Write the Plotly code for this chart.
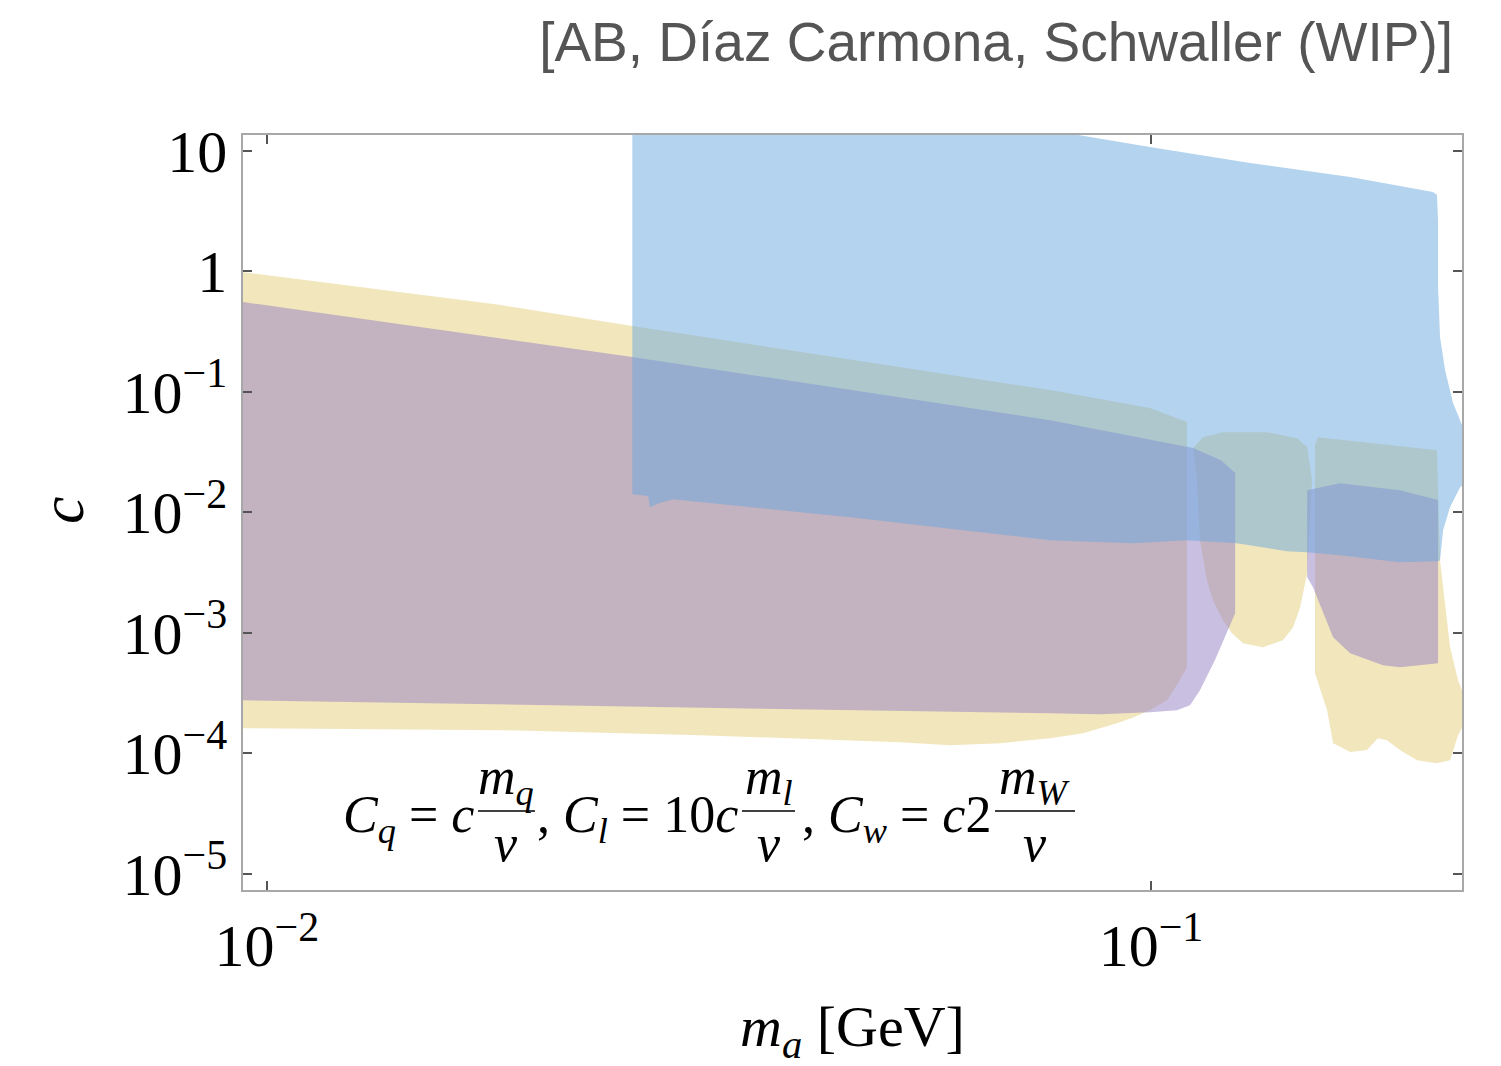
import plotly.graph_objects as go

# ---------------- data (m_a in GeV, c dimensionless) ----------------
# yellow region, lobe 1
yel1_m = [0.0093, 0.0184, 0.0259, 0.0769, 0.0997, 0.1098, 0.1098, 0.1078, 0.1043,
          0.0997, 0.0954, 0.0915, 0.0838, 0.0769, 0.0675, 0.0593, 0.0520, 0.0309,
          0.0184, 0.0093]
yel1_c = [0.99, 0.523, 0.35, 0.103, 0.073, 0.0559, 0.000516, 0.000403, 0.000275,
          0.000227, 0.000198, 0.000177, 0.000146, 0.000133, 0.000121, 0.000116,
          0.000123, 0.000141, 0.000155, 0.000161]
# yellow region, lobe 2
yel2_m = [0.1145, 0.1206, 0.1353, 0.1463, 0.1502, 0.1521, 0.1502, 0.1475, 0.1448,
          0.1410, 0.1339, 0.1271, 0.1235, 0.1206, 0.1175, 0.1157, 0.1136, 0.1127,
          0.1116]
yel2_c = [0.0419, 0.0461, 0.0461, 0.0411, 0.0346, 0.0184, 0.00311, 0.00163, 0.00111,
          0.000865, 0.000757, 0.000817, 0.000989, 0.00127, 0.00186, 0.00272,
          0.00585, 0.0184, 0.0340]
# yellow region, lobe 3
yel3_m = [0.1545, 0.2106, 0.2123, 0.2140, 0.2179, 0.2225, 0.2270, 0.2270, 0.2225,
          0.2179, 0.2106, 0.2000, 0.1912, 0.1849, 0.1806, 0.1755, 0.1680, 0.1607,
          0.1582, 0.1533, 0.1533]
yel3_c = [0.0419, 0.0327, 0.00399, 0.00240, 0.000760, 0.000403, 0.000275, 0.000185,
          0.000141, 0.0000872, 0.0000824, 0.0000872, 0.000106, 0.000128, 0.000133,
          0.000106, 0.000102, 0.000121, 0.000227, 0.000460, 0.0360]

# purple region, left part
pur1_m = [0.0093, 0.0184, 0.0259, 0.0769, 0.1116, 0.1200, 0.1245, 0.1245, 0.1222,
          0.1181, 0.1136, 0.1107, 0.1070, 0.0997, 0.0876, 0.0769, 0.0093]
pur1_c = [0.56, 0.278, 0.194, 0.058, 0.034, 0.027, 0.0211, 0.00145, 0.00105,
          0.00059, 0.000333, 0.00025, 0.000227, 0.000218, 0.00021, 0.000214, 0.000275]
# purple region, right part
pur2_m = [0.1502, 0.1636, 0.1912, 0.2112, 0.2112, 0.1912, 0.1830, 0.1680, 0.1607,
          0.1525, 0.1502]
pur2_c = [0.0152, 0.0174, 0.0152, 0.0126, 0.000557, 0.000516, 0.000536, 0.000675,
          0.000916, 0.00238, 0.00288]

# blue region
blue_m = [0.0259, 0.0853, 0.0997, 0.1294, 0.1680, 0.2084, 0.2106, 0.2112, 0.2112,
          0.2123, 0.2151, 0.2196, 0.2248, 0.2320, 0.2320, 0.2237, 0.2179, 0.2140,
          0.2123, 0.2112, 0.1912, 0.1636, 0.1502, 0.1425, 0.1363, 0.1251, 0.1098,
          0.0954, 0.0769, 0.0457, 0.0401, 0.0352, 0.0309, 0.0288, 0.0278, 0.0271,
          0.0270, 0.0259]
blue_c = [57.0, 13.0, 10.7, 7.91, 6.05, 4.54, 4.29, 2.66, 0.738,
          0.284, 0.151, 0.0804, 0.0528, 0.045, 0.020, 0.0161, 0.0110, 0.00709,
          0.00399, 0.00392, 0.00384, 0.00439, 0.00465, 0.00474, 0.00502, 0.00553,
          0.00585, 0.00553, 0.00585, 0.00909, 0.0100, 0.0110, 0.0121, 0.0128,
          0.0119, 0.0110, 0.0136, 0.0141]

x_tickvals = [0.01, 0.1]
x_ticktext = ["10<sup>\u22122</sup>", "10<sup>\u22121</sup>"]
y_tickvals = [1e-5, 1e-4, 1e-3, 1e-2, 1e-1, 1, 10]
y_ticktext = ["10<sup>\u22125</sup>", "10<sup>\u22124</sup>", "10<sup>\u22123</sup>",
              "10<sup>\u22122</sup>", "10<sup>\u22121</sup>", "1", "10"]

YELLOW = "rgba(229,205,123,0.5)"
PURPLE = "rgba(148,128,196,0.5)"
BLUE = "rgba(105,167,221,0.5)"

SERIF = "Liberation Serif, DejaVu Serif, serif"

fig = go.Figure()
for xs, ys, col in [(yel1_m, yel1_c, YELLOW), (yel2_m, yel2_c, YELLOW),
                    (yel3_m, yel3_c, YELLOW), (pur1_m, pur1_c, PURPLE),
                    (pur2_m, pur2_c, PURPLE), (blue_m, blue_c, BLUE)]:
    fig.add_trace(go.Scatter(x=xs, y=ys, mode="lines", fill="toself",
                             fillcolor=col, line=dict(width=0, color=col),
                             hoverinfo="skip", showlegend=False))

W, H = 1501, 1066
L, R, T, B = 243, 39, 135, 176


def px2paper(px, py):
    return (px - L) / (W - L - R), (H - B - py) / (H - T - B)


axis_common = dict(
    type="log", showgrid=False, zeroline=False,
    showline=True, linecolor="#a8a8a8", linewidth=1.5, mirror="allticks",
    ticks="inside", ticklen=9, tickwidth=1.5, tickcolor="#555555",
    tickfont=dict(family=SERIF, size=60, color="black"),
)

fig.update_layout(
    width=W, height=H,
    margin=dict(l=L, r=R, t=T, b=B),
    paper_bgcolor="white", plot_bgcolor="white",
    xaxis=dict(range=[-2.0271, -0.6482], tickvals=x_tickvals, ticktext=x_ticktext,
               ticklabelstandoff=2, **axis_common),
    yaxis=dict(range=[-5.136, 1.130], tickvals=y_tickvals, ticktext=y_ticktext,
               ticklabelstandoff=2, **axis_common),
    title=dict(text="[AB, Díaz Carmona, Schwaller (WIP)]",
               font=dict(family="Liberation Sans, Arial, sans-serif", size=55,
                         color="#555555"),
               xref="container", yref="container", x=1453 / W, xanchor="right",
               y=1 - 42 / H, yanchor="middle"),
)

annots = []
# axis titles
ax, ay = px2paper(852, 1030)
annots.append(dict(text="<i>m</i><sub><i>a</i></sub> [GeV]", x=ax, y=ay,
                   xanchor="center", yanchor="middle", font=dict(size=58)))
ax, ay = px2paper(62, 510)
annots.append(dict(text="<i>c</i>", x=ax, y=ay, textangle=-90,
                   xanchor="center", yanchor="middle", font=dict(size=62)))

# formula: C_q = c m_q/v, C_l = 10c m_l/v, C_w = c2 m_W/v
FS = 52
groups = [("<i>C</i><sub><i>q</i></sub> = <i>c</i>", 476, 506, "<i>m</i><sub><i>q</i></sub>", 478, 535),
          (", <i>C</i><sub><i>l</i></sub> = 10<i>c</i>", 740, 769, "<i>m</i><sub><i>l</i></sub>", 742, 795),
          (", <i>C</i><sub><i>w</i></sub> = <i>c</i>2", 993, 1035, "<i>m</i><sub><i>W</i></sub>", 995, 1075)]
shapes = []
for pre, pre_right, fc, num, b0, b1 in groups:
    gx, gy = px2paper(pre_right, 818)
    annots.append(dict(text=pre, x=gx, y=gy, xanchor="right", yanchor="middle",
                       font=dict(size=FS)))
    nx, ny = px2paper(fc, 780)
    annots.append(dict(text=num, x=nx, y=ny, xanchor="center", yanchor="middle",
                       font=dict(size=FS)))
    dx, dy = px2paper(fc, 843)
    annots.append(dict(text="<i>v</i>", x=dx, y=dy, xanchor="center",
                       yanchor="middle", font=dict(size=FS)))
    x0, y0 = px2paper(b0, 811)
    x1, _ = px2paper(b1, 811)
    shapes.append(dict(type="line", xref="paper", yref="paper", x0=x0, x1=x1,
                       y0=y0, y1=y0, line=dict(color="black", width=1.5)))

for a in annots:
    a.update(xref="paper", yref="paper", showarrow=False)
    a["font"].update(family=SERIF, color="black")

fig.update_layout(annotations=annots, shapes=shapes)
fig.write_html("out.html")
